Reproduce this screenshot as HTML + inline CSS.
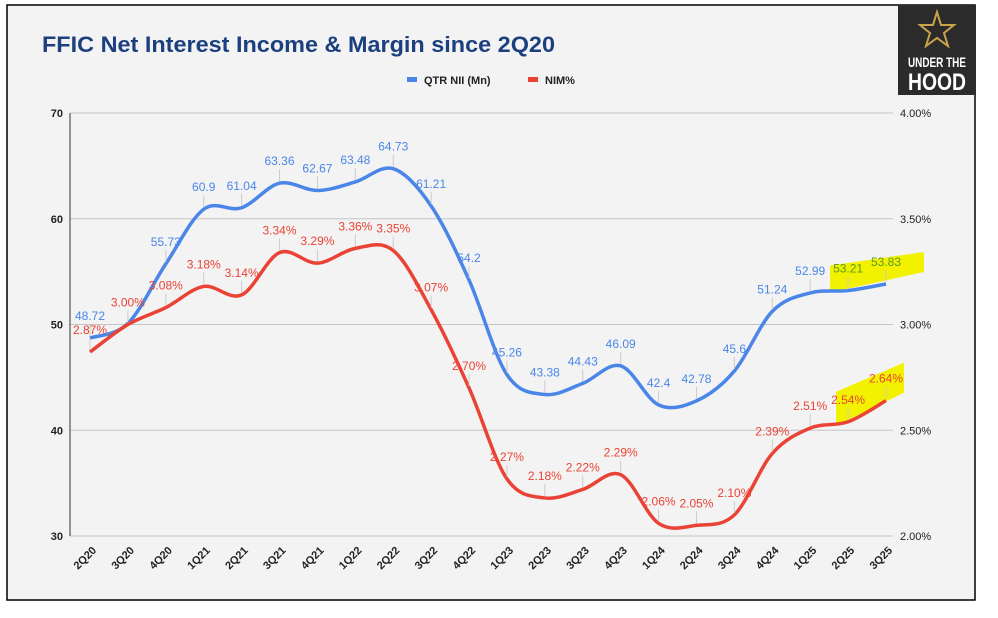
<!DOCTYPE html>
<html><head><meta charset="utf-8"><style>
html,body{margin:0;padding:0;background:#fff;}
body{width:998px;height:613px;overflow:hidden;font-family:"Liberation Sans",sans-serif;}
svg text{font-family:"Liberation Sans",sans-serif;}
</style></head><body>
<svg width="998" height="613">
<rect x="7" y="5" width="968" height="595" fill="#f3f3f3" stroke="#000" stroke-width="1.5"/>
<text x="42" y="52" font-size="22" font-weight="bold" fill="#1c3f7f" textLength="513" lengthAdjust="spacingAndGlyphs">FFIC Net Interest Income &amp; Margin since 2Q20</text>
<g>
<rect x="898" y="5" width="78" height="90" fill="#2b2b2b"/>
<polygon points="937,12 941,25 954,25 944,33 948,46 937,38 926,46 930,33 920,25 933,25" fill="none" stroke="#c9a44a" stroke-width="2"/>
<text x="937" y="67" font-size="14" font-weight="bold" fill="#fff" text-anchor="middle" textLength="58" lengthAdjust="spacingAndGlyphs">UNDER THE</text>
<text x="937" y="90" font-size="24" font-weight="bold" fill="#fff" text-anchor="middle" textLength="58" lengthAdjust="spacingAndGlyphs">HOOD</text>
</g>
<g>
<rect x="407" y="77" width="10" height="5" fill="#4a86e8"/>
<text x="424" y="84" font-size="11" font-weight="bold" fill="#222">QTR NII (Mn)</text>
<rect x="528" y="77" width="10" height="5" fill="#ea4335"/>
<text x="545" y="84" font-size="11" font-weight="bold" fill="#222">NIM%</text>
</g>
<g id="grid"></g><g id="hl"></g><g id="series"></g><g id="labels"></g><g id="axes"></g>
</svg>
<script>
const categories=["2Q20","3Q20","4Q20","1Q21","2Q21","3Q21","4Q21","1Q22","2Q22","3Q22","4Q22","1Q23","2Q23","3Q23","4Q23","1Q24","2Q24","3Q24","4Q24","1Q25","2Q25","3Q25"];
const niiValues=[48.72,50.1,55.73,60.9,61.04,63.36,62.67,63.48,64.73,61.21,54.2,45.26,43.38,44.43,46.09,42.4,42.78,45.6,51.24,52.99,53.21,53.83];
const niiLabels=["48.72","","55.73","60.9","61.04","63.36","62.67","63.48","64.73","61.21","54.2","45.26","43.38","44.43","46.09","42.4","42.78","45.6","51.24","52.99","53.21","53.83"];
const nimValues=[2.87,3.00,3.08,3.18,3.14,3.34,3.29,3.36,3.35,3.07,2.70,2.27,2.18,2.22,2.29,2.06,2.05,2.10,2.39,2.51,2.54,2.64];
const leftTicks=[30,40,50,60,70];
const rightTicks=[2.0,2.5,3.0,3.5,4.0];
const NS="http://www.w3.org/2000/svg";
const X0=90,X1=886,YT=113,YB=536;
const xs=i=>X0+(X1-X0)*i/(categories.length-1);
const yL=v=>YB-(v-30)/40*(YB-YT);
const yR=v=>YB-(v-2)/2*(YB-YT);
function mk(tag,attrs,parent){const e=document.createElementNS(NS,tag);for(const k in attrs)e.setAttribute(k,attrs[k]);document.getElementById(parent).appendChild(e);return e;}
leftTicks.forEach((t,i)=>{
 const y=yL(t);
 const g=mk('line',{x1:70,x2:893,y1:y,y2:y,stroke:'#c4c4c4','stroke-width':1},'grid');
 
 
 const l=mk('text',{x:63,y:y+4,'font-size':11,'font-weight':'bold','text-anchor':'end',fill:'#222'},'axes');l.textContent=t;
 
 
});
rightTicks.forEach(t=>{
 const l=mk('text',{x:900,y:yR(t)+4,'font-size':11,fill:'#222'},'axes');l.textContent=t.toFixed(2)+'%';
 
 
});
const ax=mk('line',{x1:70,x2:70,y1:YT,y2:YB,stroke:'#333','stroke-width':1},'axes');


categories.forEach((c,i)=>{
 const t=mk('text',{x:xs(i)+7,y:YB+15,'font-size':11,'font-weight':'bold','text-anchor':'end',fill:'#222',transform:`rotate(-45 ${xs(i)+7} ${YB+15})`},'axes');t.textContent=c;
 
 
});
function smooth(pts){let d=`M${pts[0][0]},${pts[0][1]}`;for(let i=0;i<pts.length-1;i++){const p0=pts[i-1]||pts[i],p1=pts[i],p2=pts[i+1],p3=pts[i+2]||p2;const c1=[p1[0]+(p2[0]-p0[0])/6,p1[1]+(p2[1]-p0[1])/6],c2=[p2[0]-(p3[0]-p1[0])/6,p2[1]-(p3[1]-p1[1])/6];d+=` C${c1[0]},${c1[1]} ${c2[0]},${c2[1]} ${p2[0]},${p2[1]}`;}return d;}
const n=categories.length;
const h1=mk('polygon',{points:`${xs(n-2)-18},${yL(niiValues[n-2])-25} ${xs(n-1)+38},${yL(niiValues[n-1])-32} ${xs(n-1)+38},${yL(niiValues[n-1])-12} ${xs(n-2)-18},${yL(niiValues[n-2])+2}`,fill:'#f2f200'},'hl');


const h2=mk('polygon',{points:`${xs(n-2)-12},${yR(nimValues[n-2])-30} ${xs(n-1)+18},${yR(nimValues[n-1])-38} ${xs(n-1)+18},${yR(nimValues[n-1])-8} ${xs(n-2)-12},${yR(nimValues[n-2])+4}`,fill:'#f2f200'},'hl');


const p1=mk('path',{d:smooth(niiValues.map((v,i)=>[xs(i),yL(v)])),fill:'none',stroke:'#4a86e8','stroke-width':3.5},'series');


const p2=mk('path',{d:smooth(nimValues.map((v,i)=>[xs(i),yR(v)])),fill:'none',stroke:'#ea4335','stroke-width':3.5},'series');


niiValues.forEach((v,i)=>{
 if(!niiLabels[i])return;
 const y=yL(v);
 const l=mk('line',{x1:xs(i),x2:xs(i),y1:y-2,y2:y-14,stroke:'#ccc','stroke-width':1},'labels');
 
 
 const t=mk('text',{x:xs(i),y:y-18,'font-size':12,'text-anchor':'middle',fill:i>=n-2?'#5a9a20':'#4a86e8'},'labels');t.textContent=niiLabels[i];
 
 
});
nimValues.forEach((v,i)=>{
 const y=yR(v);
 const l=mk('line',{x1:xs(i),x2:xs(i),y1:y-2,y2:y-14,stroke:'#ccc','stroke-width':1},'labels');
 
 
 const t=mk('text',{x:xs(i),y:y-18,'font-size':12,'text-anchor':'middle',fill:'#ea4335'},'labels');t.textContent=v.toFixed(2)+'%';
 
 
});
</script>
</body></html>
